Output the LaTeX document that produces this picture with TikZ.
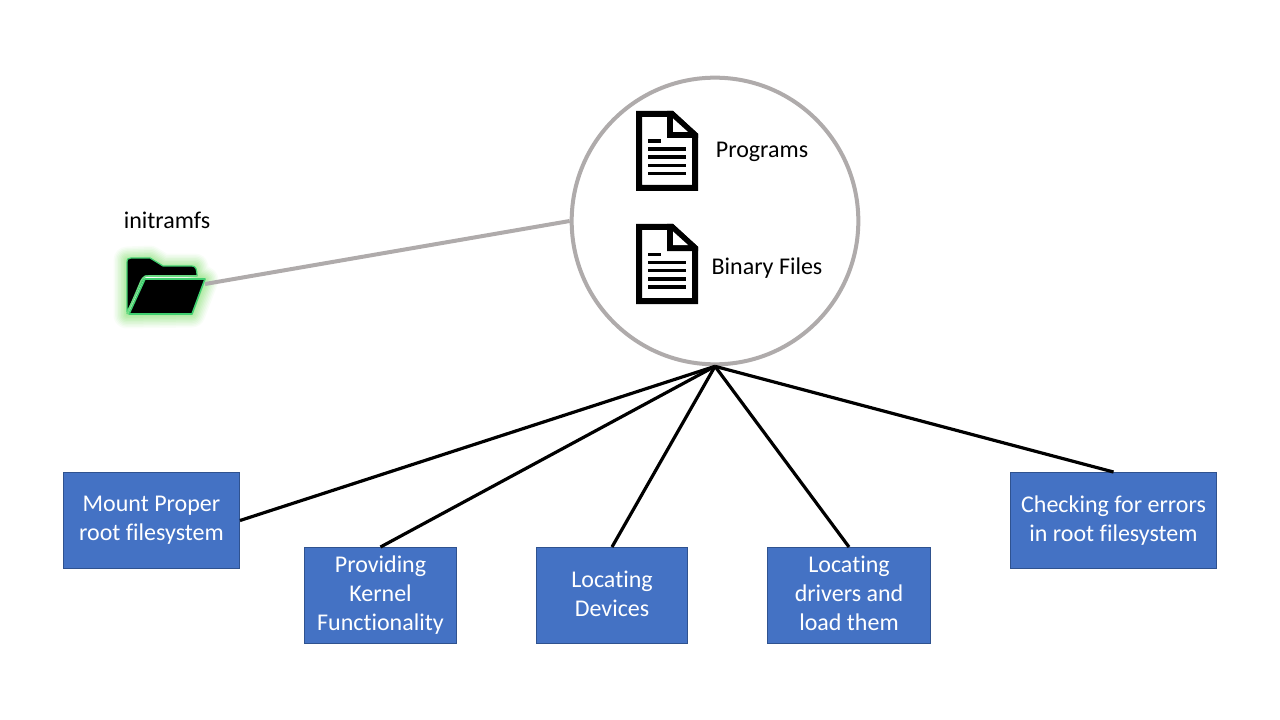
\documentclass[tikz,border=0pt]{standalone}
\usepackage{fontspec}
\setmainfont[Ligatures=NoCommon]{Carlito}
\definecolor{boxfill}{HTML}{4472C4}
\definecolor{boxline}{HTML}{2F528F}
\definecolor{ringgray}{HTML}{AFABAB}
\definecolor{glowgreen}{HTML}{A9E89B}
\definecolor{edgegreen}{HTML}{3FCF6F}
\newcommand{\lineprop}{\vphantom{Apg}}
\tikzset{
  x=0.75pt,y=-0.75pt,
  taskbox/.style={draw=boxline,line width=0.75pt,fill=boxfill,text=white,align=center,font=\fontsize{18}{21.8}\selectfont,inner sep=0pt,minimum height=72pt},
  plainlabel/.style={text=black,font=\fontsize{18}{21.8}\selectfont,inner sep=0pt},
  link/.style={draw=black,line width=2.4pt},
  graylink/.style={draw=ringgray,line width=3pt},
}
\newcommand{\docicon}[2]{%
  \begin{scope}[shift={(#1,#2)}]
    \draw[black,line width=4.5pt,miter limit=10,fill=white] (3,3) -- (36,3) -- (59,24) -- (59,77) -- (3,77) -- cycle;
    \fill[black] (31,0) -- (37,0) -- (62,23) -- (62,27) -- (31,27) -- cycle;
    \fill[white] (37,7.5) -- (37,21) -- (52,21) -- cycle;
    \fill[black] (12,28.5) rectangle (25,32);
    \foreach \yy in {36.5,44.5,53,61}{\fill[black] (12,\yy) rectangle (50,\yy+3.5);}
  \end{scope}}
\begin{document}
\begin{tikzpicture}
\useasboundingbox (0,0) rectangle (1280,720);
% hub
\node[circle,draw=ringgray,line width=3pt,fill=white,minimum size=215pt,inner sep=0pt] (hub) at (715,221) {};
% icons and their labels
\docicon{636}{111}
\docicon{636}{224}
\node[plainlabel] (programs) at (762,152) {\lineprop Programs};
\node[plainlabel] (binary) at (767,268) {\lineprop Binary Files};
\node[plainlabel] (initramfs) at (167,222) {\lineprop initramfs};
% folder glow
\foreach \w/\o in {27/0.08,24/0.10,21/0.12,18/0.14,15/0.18,12/0.22,9/0.28,6/0.35,3/0.45}{
  \draw[glowgreen,line width=\w*0.75pt,opacity=\o,line join=round]
    (127,260) -- (150,259) -- (163,267) -- (195,267) -- (197,276) -- (205,280) -- (192,314) -- (127,315) -- cycle;
}
% folder
\fill[black,draw=edgegreen,line width=0.9pt,line join=round] (127,263) .. controls (127,259) and (128,258) .. (131,258) -- (150,258) -- (163,266) -- (192,266) .. controls (196,266) and (197,270) .. (197,276) -- (145,276) -- (127,312) -- cycle;
\fill[black,draw=edgegreen,line width=1.2pt,line join=round] (145,279) -- (205,279) -- (192,314) -- (129,314) -- cycle;
\draw[edgegreen!60!glowgreen,line width=1.2pt] (127,314) -- (141,281) .. controls (143,277) and (145,276) .. (149,276) -- (197,276);
\node[inner sep=0pt,minimum width=0pt] (folder) at (205,284) {};
% gray connector
\draw[graylink] (folder.center) -- (hub.west);
% task boxes
\node[taskbox,minimum width=132pt] (mount) at (151.5,520.5) {\lineprop Mount Proper\\\lineprop root filesystem};
\node[taskbox,minimum width=114pt] (kernel) at (380.5,595.5) {\lineprop Providing\\\lineprop Kernel\\\lineprop Functionality};
\node[taskbox,minimum width=113.25pt] (devices) at (612,595.5) {\lineprop Locating\\\lineprop Devices};
\node[taskbox,minimum width=122.25pt] (drivers) at (849,595.5) {\lineprop Locating\\\lineprop drivers and\\\lineprop load them};
\node[taskbox,minimum width=154.5pt] (errors) at (1113.5,520.5) {\lineprop Checking for errors\\\lineprop in root filesystem};
% connectors
\draw[link] (hub.south) -- (mount.east);
\draw[link] (hub.south) -- (kernel.north);
\draw[link] (hub.south) -- (devices.north);
\draw[link] (hub.south) -- (drivers.north);
\draw[link] (hub.south) -- (errors.north);
\end{tikzpicture}
\end{document}
